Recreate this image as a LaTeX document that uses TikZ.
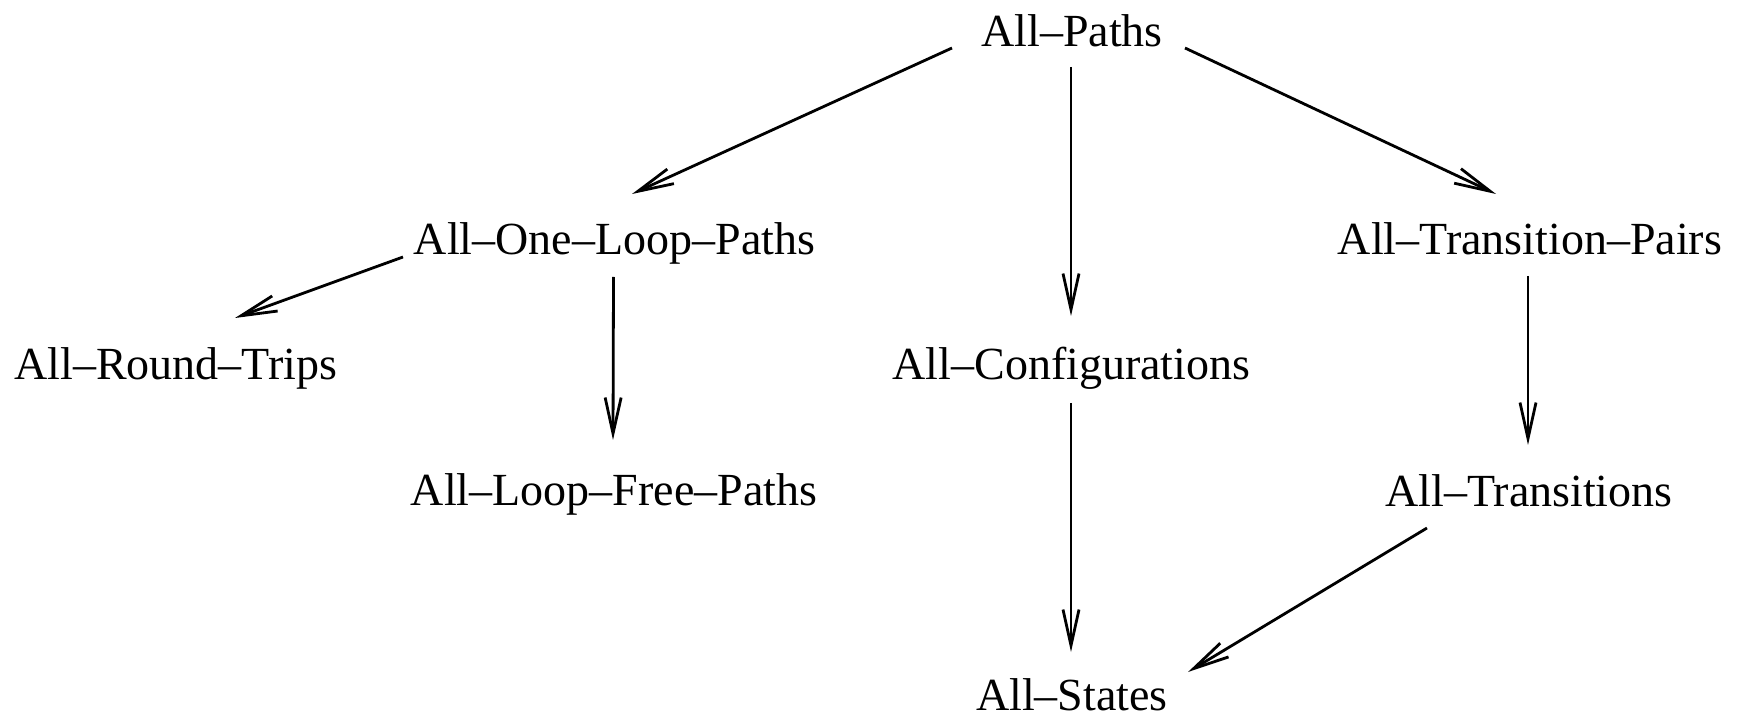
\documentclass[tikz,border=0pt]{standalone}
\usepackage{fontspec}
\setmainfont{Liberation Serif}
\usetikzlibrary{arrows.meta}
\begin{document}
\begin{tikzpicture}[x=0.5pt,y=-0.5pt,
  lbl/.style={anchor=base,inner sep=0pt,font=\fontsize{23}{27}\selectfont},
  arr/.style={line width=1.4pt,-{Straight Barb[length=18pt,width=8pt,line width=1.4pt]}}]
\useasboundingbox (0,0) rectangle (1740,721);
\node[lbl] (paths)    at (1072,47)  {All–Paths};
\node[lbl] (oneloop)  at (614.5,255) {All–One–Loop–Paths};
\node[lbl] (pairs)    at (1530,255) {All–Transition–Pairs};
\node[lbl] (round)    at (176,380)  {All–Round–Trips};
\node[lbl] (config)   at (1071.5,380) {All–Configurations};
\node[lbl] (loopfree) at (614,505)  {All–Loop–Free–Paths};
\node[lbl] (trans)    at (1529,506) {All–Transitions};
\node[lbl] (states)   at (1072,710) {All–States};
\draw[arr] ([shift={(-120,1)}]paths.base) -- ([shift={(17.5,-61)}]oneloop.base);
\draw[arr] ([shift={(-1,20)}]paths.base) -- ([shift={(-0.5,-64)}]config.base);
\draw[arr] ([shift={(113,1)}]paths.base) -- ([shift={(-34,-61)}]pairs.base);
\draw[arr] ([shift={(-211.5,2)}]oneloop.base) -- ([shift={(59,-62)}]round.base);
\draw[arr] ([shift={(-1,22)}]oneloop.base) -- ([shift={(-1,-65)}]loopfree.base);
\draw[arr] ([shift={(-2,21)}]pairs.base) -- ([shift={(-1,-61)}]trans.base);
\draw[arr] ([shift={(-0.5,23)}]config.base) -- ([shift={(-1,-58)}]states.base);
\draw[arr] ([shift={(-102,22)}]trans.base) -- ([shift={(116,-38)}]states.base);
\end{tikzpicture}
\end{document}
